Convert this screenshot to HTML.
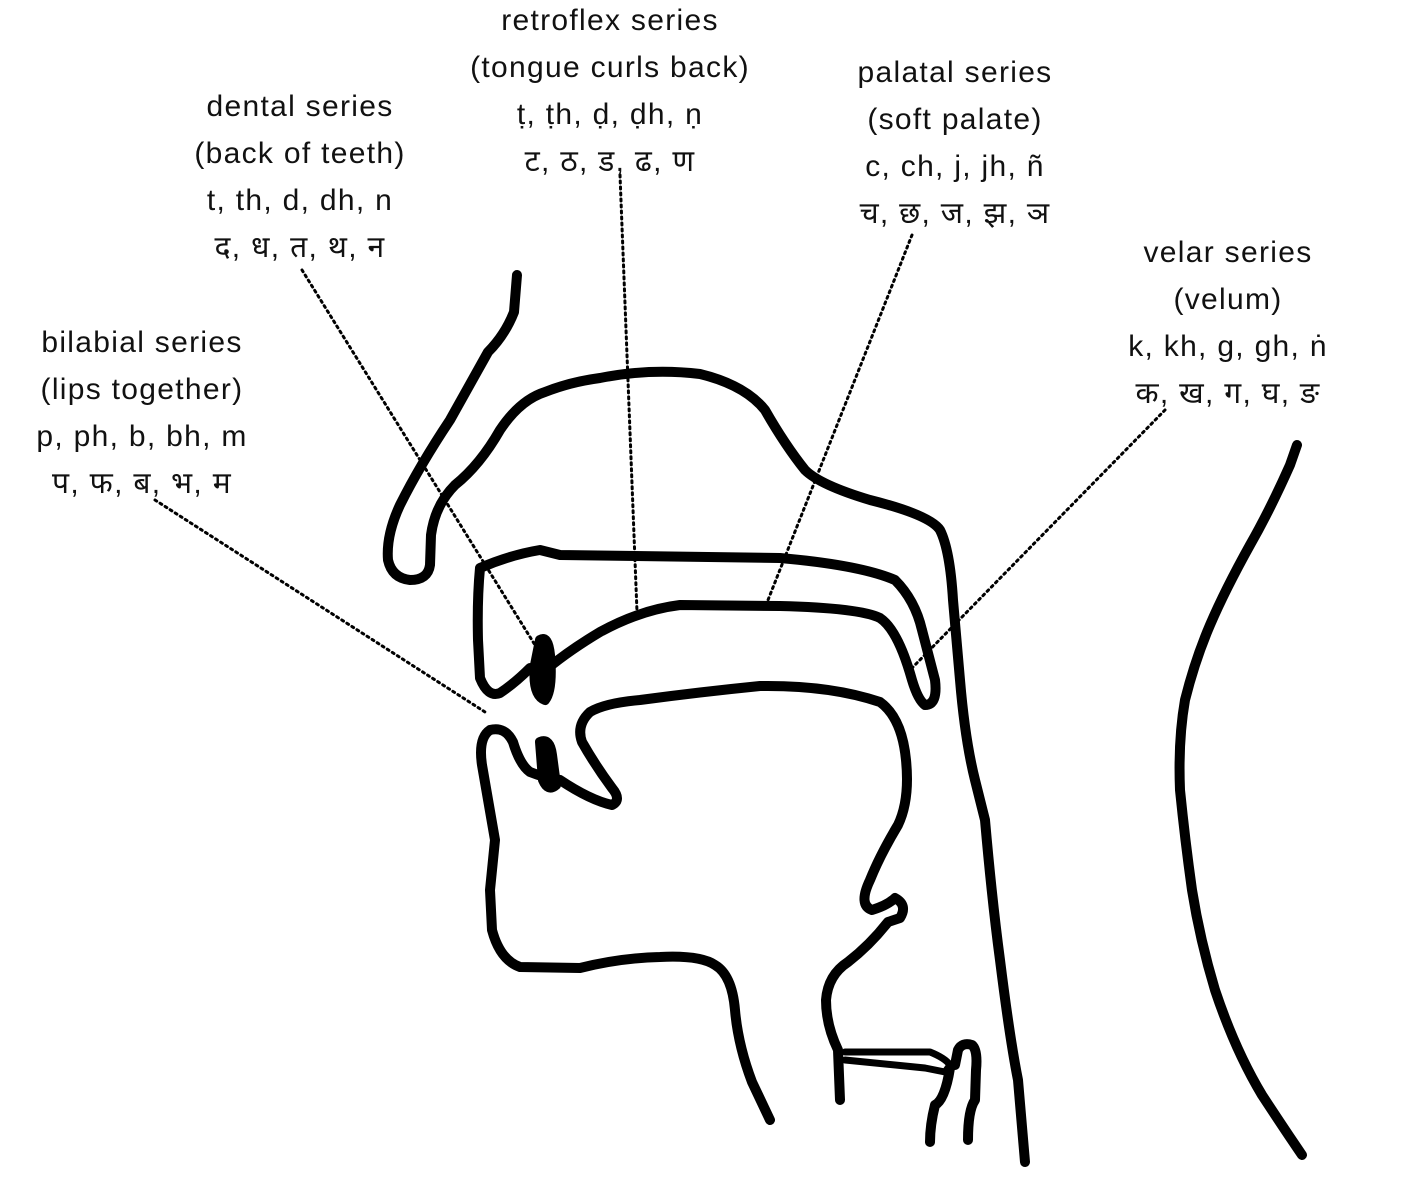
<!DOCTYPE html>
<html><head><meta charset="utf-8"><style>
html,body{margin:0;padding:0;background:#fff;}
body{width:1410px;height:1182px;position:relative;overflow:hidden;font-family:"Liberation Sans","DejaVu Sans",sans-serif;}
.l{position:absolute;text-align:center;font-size:30px;letter-spacing:1.3px;line-height:47px;color:#111;transform:translateX(-50%);white-space:nowrap;}
svg{position:absolute;left:0;top:0;}
</style></head><body>
<svg width="1410" height="1182" viewBox="0 0 1410 1182" fill="none" stroke="#000" stroke-linecap="round" stroke-linejoin="round">
<g stroke-width="3" stroke-dasharray="2 4">
<path d="M302 270 L535 645"/>
<path d="M620 175 L637 612"/>
<path d="M912 235 L768 600"/>
<path d="M1165 410 L912 668"/>
<path d="M155 500 L485 712"/>
</g>
<g stroke-width="10">
<path d="M517 275 L514 312 Q505 335 488 352 L450 420 Q420 465 400 505 Q386 535 388 560 Q392 578 410 580 Q428 580 430 565 L431 535 Q435 505 455 485 Q480 465 500 430 Q520 400 545 392 Q570 382 600 378 Q650 368 700 374 Q745 385 765 410 Q785 445 805 470 Q820 485 870 500 Q930 515 940 530 Q950 550 953 600 L960 680 Q965 740 975 780 L985 820 Q992 900 1000 960 Q1010 1040 1018 1080 L1025 1162"/>
<path d="M480 568 Q510 555 540 550 L560 555 L780 558 Q860 565 895 580 Q915 600 922 630 L935 680 Q938 705 925 705 Q918 700 912 680 Q898 630 880 618 Q860 608 780 606 L680 605 Q640 610 600 632 Q570 650 548 668 M480 568 Q477 600 478 640 L480 678 Q488 698 500 693 Q515 683 530 668"/>
<path d="M540 640 Q548 635 550 655 Q553 690 545 700 Q532 695 535 665 Z" fill="#000"/>
<path d="M770 1120 L752 1082 Q738 1045 735 1010 Q732 975 715 965 Q700 955 660 957 Q620 958 580 968 L520 967 Q500 960 492 930 L490 890 L495 840 Q488 800 482 765 Q478 738 490 730 Q505 726 513 742 Q520 765 530 772 Q545 778 560 780 Q590 800 612 805 Q622 800 612 788 Q595 765 582 742 Q576 725 590 712 Q605 703 640 700 Q700 692 760 686 Q830 685 880 702 Q902 718 906 760 Q910 800 898 825 Q880 855 870 880 Q858 905 872 910 Q888 905 895 898 Q908 905 900 918 L888 922 Q870 945 848 962 Q828 975 826 1000 Q826 1025 838 1050 L840 1100"/>
<path d="M540 742 Q550 738 552 755 L556 785 Q548 792 543 780 Z" fill="#000"/>
<path d="M845 1052 L930 1052 Q945 1058 950 1065 L945 1072 L925 1068 L845 1060" stroke-width="7"/>
<path d="M950 1068 Q945 1100 935 1105 Q930 1125 930 1142 M955 1065 L958 1050 Q962 1042 972 1045 Q978 1050 976 1070 L975 1100 Q968 1110 968 1140"/>
<path d="M1297 445 L1290 465 Q1270 510 1250 545 Q1225 590 1210 625 Q1195 660 1185 700 Q1178 740 1180 790 Q1185 840 1192 890 Q1200 940 1215 990 Q1235 1050 1262 1095 Q1285 1130 1302 1155"/>
</g>
</svg>
<div class="l" style="left:610px;top:-3px">retroflex series<br>(tongue curls back)<br>ṭ, ṭh, ḍ, ḍh, ṇ<br>ट, ठ, ड, ढ, ण</div>
<div class="l" style="left:300px;top:83px">dental series<br>(back of teeth)<br>t, th, d, dh, n<br>द, ध, त, थ, न</div>
<div class="l" style="left:955px;top:49px">palatal series<br>(soft palate)<br>c, ch, j, jh, ñ<br>च, छ, ज, झ, ञ</div>
<div class="l" style="left:1228px;top:229px">velar series<br>(velum)<br>k, kh, g, gh, ṅ<br>क, ख, ग, घ, ङ</div>
<div class="l" style="left:142px;top:319px">bilabial series<br>(lips together)<br>p, ph, b, bh, m<br>प, फ, ब, भ, म</div>
</body></html>
